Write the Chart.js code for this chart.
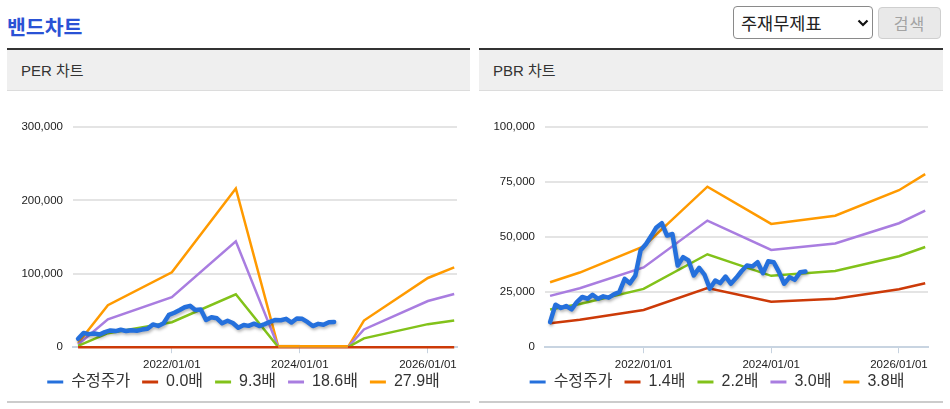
<!DOCTYPE html>
<html><head><meta charset="utf-8">
<script src="https://cdn.jsdelivr.net/npm/chart.js@4/dist/chart.umd.min.js"></script>
<style>
html,body{margin:0;padding:0;background:#fff;}
body{width:950px;height:409px;position:relative;overflow:hidden;font-family:"Liberation Sans","Noto Sans CJK KR",sans-serif;}
.abs{position:absolute;}
#title{left:7px;top:10px;font-weight:bold;font-size:20.5px;font-family:"Noto Sans CJK KR",sans-serif;color:#2a52d5;line-height:32px;white-space:nowrap;}
#sel{left:733px;top:6px;width:138px;height:31px;border:1px solid #8a8a8a;border-radius:4px;background:#fff;box-sizing:content-box;}
#sel span{position:absolute;left:7px;top:0;line-height:31px;font-size:17.5px;color:#222;font-family:"Noto Sans CJK KR",sans-serif;}
#sel svg{position:absolute;left:123px;top:12px;}
#btn{left:878px;top:7px;width:61px;height:30px;border:1px solid #cfcfcf;border-radius:4px;background:#e9e9e9;color:#a3a3a3;font-size:16px;line-height:30px;text-align:center;font-family:"Noto Sans CJK KR",sans-serif;letter-spacing:1px;}
.bar{top:48px;height:2px;background:#333;}
.head{top:50px;height:40px;background:#efefef;border-bottom:1px solid #dcdcdc;}
.head span{position:absolute;left:14px;top:0;line-height:42px;font-size:15px;color:#333;}
.foot{top:401px;height:2px;background:#cccccc;}
canvas{position:absolute;top:92px;}
</style></head>
<body>
<div id="title" class="abs">밴드차트</div>
<div id="sel" class="abs"><span>주재무제표</span><svg width="12" height="8" viewBox="0 0 12 8"><polyline points="1.5,1.5 6,6 10.5,1.5" fill="none" stroke="#111" stroke-width="2.2"/></svg></div>
<div id="btn" class="abs">검색</div>

<div class="abs bar" style="left:7px;width:463px"></div>
<div class="abs head" style="left:7px;width:463px"><span>PER 차트</span></div>
<div class="abs foot" style="left:7px;width:463px"></div>

<div class="abs bar" style="left:479px;width:464px"></div>
<div class="abs head" style="left:479px;width:464px"><span>PBR 차트</span></div>
<div class="abs foot" style="left:479px;width:464px"></div>

<canvas id="per" width="473" height="324" style="left:7px"></canvas>
<canvas id="pbr" width="476" height="324" style="left:479px"></canvas>

<script>
// ---- data ----
const priceMonths = ['2020-07','2020-08','2020-09','2020-10','2020-11','2020-12',
  '2021-01','2021-02','2021-03','2021-04','2021-05','2021-06','2021-07','2021-08','2021-09','2021-10','2021-11','2021-12',
  '2022-01','2022-02','2022-03','2022-04','2022-05','2022-06','2022-07','2022-08','2022-09','2022-10','2022-11','2022-12',
  '2023-01','2023-02','2023-03','2023-04','2023-05','2023-06','2023-07','2023-08','2023-09','2023-10','2023-11','2023-12',
  '2024-01','2024-02','2024-03','2024-04','2024-05','2024-06','2024-07'];
const adjPrice = [11400,19300,17800,18700,17200,20500,
  22800,22000,23800,22000,23100,22500,24000,25000,31000,29000,32600,44000,
  46900,50700,54400,56300,50700,51400,37100,40900,39400,32600,36000,33000,
  26600,30300,29100,32100,28800,31500,34500,37100,36700,38600,33600,39000,
  38600,34100,28800,31800,30600,34100,34400];

const bandDates = ['2020-07-15','2021-01-01','2022-01-01','2023-01-01','2024-01-01','2025-01-01','2026-01-01','2026-05-31'];

const perLabels = ['0.0배','9.3배','18.6배','27.9배'];
const per00 = [0,0,0,0,0,0,0,0];
const per93 = [1900,19100,34000,72100,-36300,12100,31400,36300];
const per186 = [3700,38100,68100,144200,-72500,24200,62900,72500];
const per279 = [5600,57200,102100,216200,-108800,36300,94300,108800];

const pbrLabels = ['1.4배','2.2배','3.0배','3.8배'];
const pbr14 = [10900,12500,16900,26900,20600,22000,26300,29000];
const pbr22 = [17100,19600,26500,42200,32400,34600,41300,45500];
const pbr30 = [23300,26800,36200,57500,44200,47100,56300,62000];
const pbr38 = [29500,33900,45800,72900,56000,59700,71300,78600];

const priceLabel = '수정주가';
const xTickDates = ['2022-01-01','2024-01-01','2026-01-01'];
const xTickLabels = ['2022/01/01','2024/01/01','2026/01/01'];
const xRange = ['2020-06-16','2026-06-16'];

// ---- helpers ----
const ts = s => { const p = s.split('-').map(Number); return Date.UTC(p[0], p[1]-1, p.length > 2 ? p[2] : 15); };
const pricePts = priceMonths.map((m,i) => ({x: ts(m), y: adjPrice[i]}));
const bandPts = arr => bandDates.map((d,i) => ({x: ts(d), y: arr[i]}));

const COLORS = ['#2570dc','#cc3a08','#82c21a','#a97de0','#ff9a00'];
const FONT = '"Liberation Sans","Noto Sans CJK KR",sans-serif';

const shadowPlugin = {
  id: 'shadowLine',
  beforeDatasetDraw(chart, args) {
    if (args.index === 0) { const c = chart.ctx; c.save(); c.shadowColor = 'rgba(0,0,0,0.28)'; c.shadowBlur = 3; c.shadowOffsetX = 1; c.shadowOffsetY = 2; }
  },
  afterDatasetDraw(chart, args) { if (args.index === 0) chart.ctx.restore(); }
};

// draws the part of a band that falls below the axis floor flat along the floor
const floorPlugin = {
  id: 'floorLine',
  afterDatasetsDraw(chart) {
    const ctx = chart.ctx, yb = chart.chartArea.bottom;
    for (let i = 1; i < chart.data.datasets.length; i++) {
      const ds = chart.data.datasets[i], pts = chart.getDatasetMeta(i).data;
      ctx.save(); ctx.strokeStyle = ds.borderColor; ctx.lineWidth = ds.borderWidth; ctx.lineCap = 'butt';
      for (let j = 0; j < pts.length - 1; j++) {
        const a = pts[j], b = pts[j+1];
        const aBelow = a.y > yb + 0.5, bBelow = b.y > yb + 0.5;
        if (!aBelow && !bBelow) continue;
        let x0 = a.x, x1 = b.x;
        if (!aBelow) x0 = a.x + (b.x - a.x) * (yb - a.y) / (b.y - a.y);
        if (!bBelow) x1 = a.x + (b.x - a.x) * (yb - a.y) / (b.y - a.y);
        ctx.beginPath(); ctx.moveTo(x0, yb - 1); ctx.lineTo(x1, yb - 1); ctx.stroke();
      }
      ctx.restore();
    }
  }
};

// nudges the legend row up closer to the axis labels
const legendShift = {
  id: 'legendShift',
  afterLayout(chart) { const lg = chart.legend; if (lg) { lg.top -= 15; lg.bottom -= 15; } }
};

function makeChart(id, bandLabels, bands, yMax, yStep, rightW) {
  const datasets = [{
    label: priceLabel, data: pricePts, borderColor: COLORS[0], backgroundColor: COLORS[0],
    borderWidth: 4.5, borderJoinStyle: 'round', borderCapStyle: 'round', pointRadius: 0, tension: 0
  }];
  bands.forEach((arr, i) => datasets.push({
    label: bandLabels[i], data: bandPts(arr), borderColor: COLORS[i+1], backgroundColor: COLORS[i+1],
    borderWidth: 2.5, pointRadius: 0, tension: 0, clip: i === 0 ? 3 : undefined
  }));
  return new Chart(document.getElementById(id), {
    type: 'line',
    data: {datasets},
    plugins: [shadowPlugin, floorPlugin, legendShift],
    options: {
      responsive: false, animation: false, devicePixelRatio: 1,
      events: [],
      layout: {padding: {left: 0, right: 0, top: 35, bottom: 1}},
      scales: {
        x: {
          type: 'linear', min: ts(xRange[0]), max: ts(xRange[1]),
          afterBuildTicks: s => { s.ticks = xTickDates.map(d => ({value: ts(d)})); },
          ticks: {
            autoSkip: false, maxRotation: 0, padding: 5, color: '#222',
            font: {family: FONT, size: 11.5},
            callback: (v, i) => xTickLabels[i]
          },
          grid: {display: true, drawOnChartArea: false, drawTicks: true, tickLength: 6, color: '#c6d2df', lineWidth: 1},
          border: {display: true, color: '#c8d4e1', width: 2}
        },
        y: {
          min: 0, max: yMax,
          afterFit: s => { s.width = 66; },
          ticks: {
            stepSize: yStep, padding: 10, color: '#222',
            font: {family: FONT, size: 11.5},
            callback: v => v.toLocaleString('en-US')
          },
          grid: {color: '#e4e4e4', lineWidth: 2, drawTicks: false},
          border: {display: false}
        },
        yPad: {
          position: 'right', min: 0, max: 1,
          afterFit: s => { s.width = rightW; },
          ticks: {display: false},
          grid: {display: false, drawTicks: false},
          border: {display: false}
        }
      },
      plugins: {
        tooltip: {enabled: false},
        legend: {
          position: 'bottom',
          labels: {
            boxWidth: 16, boxHeight: 3, padding: 12, color: '#333',
            font: {family: FONT, size: 16},
            generateLabels(chart) {
              const items = Chart.defaults.plugins.legend.labels.generateLabels(chart);
              items.forEach(it => { it.lineWidth = 0; });
              return items;
            }
          }
        }
      }
    }
  });
}

makeChart('per', perLabels, [per00, per93, per186, per279], 300000, 100000, 23);
makeChart('pbr', pbrLabels, [pbr14, pbr22, pbr30, pbr38], 100000, 25000, 27);
</script>
</body></html>
